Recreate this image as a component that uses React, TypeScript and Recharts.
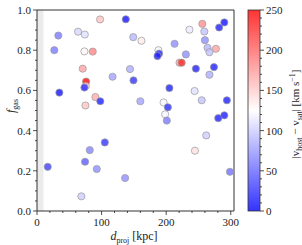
import { ScatterChart, Scatter, XAxis, YAxis, ReferenceArea } from "recharts";

// projected distance [kpc]
const dProj = [
  97.7, 137.5, 33, 63.6, 74, 149, 26.8, 73.4, 86.3, 70.8, 144, 117, 149.4, 76, 75.5, 73.4,
  34.6, 90.4, 98, 75, 160, 256, 290, 282, 236, 259, 161.7, 260, 213, 264, 277, 267, 188,
  189, 186.5, 230.5, 220.6, 224, 246, 274, 267, 205, 244, 294, 255, 196, 202.6, 198.4, 201,
  280.6, 290, 262, 244.5, 298.7, 105, 81.7, 16.6, 74.4, 92.5, 136.4, 68.7,
];
// gas fraction
const fGas = [
  0.953, 0.954, 0.873, 0.892, 0.878, 0.865, 0.8, 0.794, 0.793, 0.708, 0.706, 0.668, 0.65,
  0.644, 0.622, 0.614, 0.589, 0.567, 0.546, 0.525, 0.546, 0.931, 0.938, 0.913, 0.902, 0.893,
  0.847, 0.85, 0.832, 0.812, 0.807, 0.79, 0.8, 0.783, 0.771, 0.779, 0.738, 0.738, 0.708,
  0.716, 0.678, 0.612, 0.597, 0.551, 0.551, 0.54, 0.516, 0.481, 0.45, 0.462, 0.476, 0.376,
  0.3, 0.195, 0.341, 0.303, 0.22, 0.245, 0.209, 0.164, 0.073,
];
// |v_host - v_sat| [km/s]
const dVel = [
  155, 10, 60, 105, 110, 90, 60, 130, 185, 170, 85, 80, 25, 245, 145, 20, 10, 165, 15, 155,
  80, 180, 10, 15, 115, 95, 135, 70, 70, 90, 170, 95, 120, 20, 15, 70, 170, 230, 15, 15, 85,
  15, 110, 15, 95, 120, 20, 120, 60, 15, 15, 100, 140, 55, 25, 65, 30, 45, 70, 70, 100,
];

const xTicks = [0, 20, 40, 60, 80, 100, 120, 140, 160, 180, 200, 220, 240, 260, 280, 300];
const xMajor = [0, 100, 200, 300];
const yTicks = [
  0, 0.05, 0.1, 0.15, 0.2, 0.25, 0.3, 0.35, 0.4, 0.45, 0.5, 0.55, 0.6, 0.65, 0.7, 0.75, 0.8,
  0.85, 0.9, 0.95, 1.0,
];
const yMajor = [0, 0.2, 0.4, 0.6, 0.8, 1.0];
const cbTicks = [
  0, 10, 20, 30, 40, 50, 60, 70, 80, 90, 100, 110, 120, 130, 140, 150, 160, 170, 180, 190,
  200, 210, 220, 230, 240, 250,
];
const cbMajor = [0, 50, 100, 150, 200, 250];
const vMax = 250;

const data = dProj.map((d, i) => ({ d, f: fGas[i], v: dVel[i] }));

const FONT = "'Liberation Serif', 'DejaVu Serif', serif";
const INK = "#222";

// matplotlib "bwr"
function bwr(v: number) {
  const t = Math.max(0, Math.min(1, v / vMax));
  if (t < 0.5) {
    const c = Math.round(255 * (t / 0.5));
    return `rgb(${c},${c},255)`;
  }
  const c = Math.round(255 * ((1 - t) / 0.5));
  return `rgb(255,${c},${c})`;
}

const isIn = (list: number[], v: number) => list.some((m) => Math.abs(m - v) < 1e-6);

const XTick = (props: any) => {
  const { x, y, payload } = props;
  const major = isIn(xMajor, payload.value);
  return (
    <g>
      <line x1={x} x2={x} y1={y} y2={y + (major ? 4 : 2)} stroke={INK} strokeWidth={0.8} />
      {major && (
        <text x={x} y={y + 15} textAnchor="middle" fontSize={11} fontFamily={FONT} fill={INK}>
          {payload.value}
        </text>
      )}
    </g>
  );
};

const YTick = (props: any) => {
  const { x, y, payload } = props;
  const major = isIn(yMajor, payload.value);
  return (
    <g>
      <line x1={x} x2={x - (major ? 4 : 2)} y1={y} y2={y} stroke={INK} strokeWidth={0.8} />
      {major && (
        <text x={x - 6} y={y + 4} textAnchor="end" fontSize={11} fontFamily={FONT} fill={INK}>
          {payload.value.toFixed(1)}
        </text>
      )}
    </g>
  );
};

const Dot = (props: any) => {
  const { cx, cy, payload } = props;
  if (cx == null || cy == null) return null;
  return (
    <circle
      cx={cx}
      cy={cy}
      r={3.6}
      fill={bwr(payload.v)}
      fillOpacity={0.8}
      stroke="#999"
      strokeWidth={0.7}
    />
  );
};

// colorbar geometry
const cbX = 248;
const cbW = 12;
const cbTop = 10;
const cbBottom = 211;
const cbY = (v: number) => cbBottom - (v / vMax) * (cbBottom - cbTop);

export default function App() {
  return (
    <div style={{ position: "absolute", left: 0, top: 0, width: 302, height: 245 }}>
      <ScatterChart
        width={302}
        height={245}
        margin={{ top: 10, right: 68, bottom: 0, left: 0 }}
      >
        <XAxis
          type="number"
          dataKey="d"
          domain={[0, 305]}
          ticks={xTicks}
          interval={0}
          tickSize={0}
          tickMargin={0}
          height={34}
          tick={<XTick />}
          axisLine={false}
          tickLine={false}
        />
        <YAxis
          type="number"
          dataKey="f"
          domain={[0, 1]}
          ticks={yTicks}
          interval={0}
          tickSize={0}
          tickMargin={0}
          width={37}
          tick={<YTick />}
          axisLine={false}
          tickLine={false}
        />
        <ReferenceArea x1={0} x2={10} y1={0} y2={1} fill="#ebebeb" fillOpacity={1} stroke="none" />
        <Scatter data={data} shape={<Dot />} isAnimationActive={false} />
        <ReferenceArea
          x1={0}
          x2={305}
          y1={0}
          y2={1}
          fill="none"
          fillOpacity={0}
          stroke="#333"
          strokeWidth={1}
        />
      </ScatterChart>
      <svg
        width={302}
        height={245}
        style={{ position: "absolute", left: 0, top: 0, pointerEvents: "none" }}
        fontFamily={FONT}
      >
        <defs>
          <linearGradient id="bwr" x1="0" y1="1" x2="0" y2="0">
            <stop offset="0" stopColor="rgb(0,0,255)" />
            <stop offset="0.5" stopColor="rgb(255,255,255)" />
            <stop offset="1" stopColor="rgb(255,0,0)" />
          </linearGradient>
        </defs>
        <rect
          x={cbX}
          y={cbTop}
          width={cbW}
          height={cbBottom - cbTop}
          fill="url(#bwr)"
          fillOpacity={0.8}
          stroke="#333"
          strokeWidth={0.8}
        />
        {cbTicks.map((v) => {
          const major = isIn(cbMajor, v);
          const y = cbY(v);
          return (
            <g key={v}>
              <line
                x1={cbX + cbW}
                x2={cbX + cbW + (major ? 4 : 2)}
                y1={y}
                y2={y}
                stroke={INK}
                strokeWidth={0.8}
              />
              {major && (
                <text x={cbX + cbW + 6} y={y + 4} fontSize={11} fill={INK}>
                  {v}
                </text>
              )}
            </g>
          );
        })}
        <text transform="translate(15,106) rotate(-90)" textAnchor="middle" fontSize={12} fill={INK}>
          <tspan fontStyle="italic">f</tspan>
          <tspan fontSize={8} dy={3}>gas</tspan>
        </text>
        <text x={134} y={240} textAnchor="middle" fontSize={12} fill={INK}>
          <tspan fontStyle="italic">d</tspan>
          <tspan fontSize={8} dy={3}>proj</tspan>
          <tspan dy={-3}> [kpc]</tspan>
        </text>
        <text transform="translate(299,114) rotate(-90)" textAnchor="middle" fontSize={11} fill={INK}>
          |v<tspan fontSize={8} dy={2.5}>host</tspan>
          <tspan dy={-2.5}> − v</tspan>
          <tspan fontSize={8} dy={2.5}>sat</tspan>
          <tspan dy={-2.5}>| [km s</tspan>
          <tspan fontSize={8} dy={-4}>−1</tspan>
          <tspan dy={4}>]</tspan>
        </text>
      </svg>
    </div>
  );
}
